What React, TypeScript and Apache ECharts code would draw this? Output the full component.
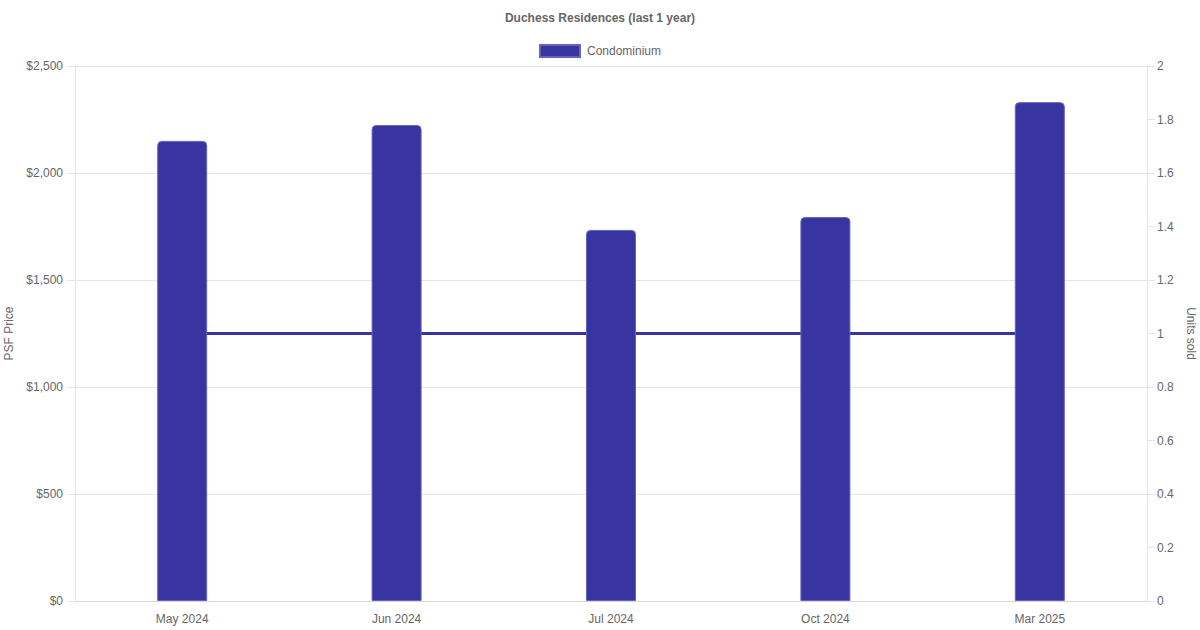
import React, { useEffect, useRef } from "react";
import * as echarts from "echarts";

const categories = ["May 2024", "Jun 2024", "Jul 2024", "Oct 2024", "Mar 2025"];
const psfPrices = [2150, 2224, 1734, 1794, 2331];
const unitsSold = [1, 1, 1, 1, 1];
const seriesName = "Condominium";
const titleText = "Duchess Residences (last 1 year)";

const BAR = "#3835A0";
const TXT = "#666666";
const GRID = "#e5e5e5";
const FONT = "'Liberation Sans', Arial, Helvetica, sans-serif";

export default function App() {
  const ref = useRef<HTMLDivElement>(null);
  useEffect(() => {
    if (!ref.current) return;
    const chart = echarts.init(ref.current, undefined, { renderer: "svg" });
    chart.setOption({
      animation: false,
      textStyle: { fontFamily: FONT },
      title: {
        text: titleText,
        left: "center",
        top: 7,
        textStyle: { fontFamily: FONT, fontSize: 12, fontWeight: "bold", color: TXT },
      },
      legend: {
        data: [{ name: seriesName, icon: "rect" }],
        top: 39,
        left: "center",
        itemWidth: 40,
        itemHeight: 12,
        itemGap: 10,
        textStyle: { fontFamily: FONT, fontSize: 12, color: TXT, padding: [0, 0, 0, 2] },
      },
      grid: { left: 75, right: 53, top: 66, bottom: 29, containLabel: false, outerBoundsMode: "none" },
      xAxis: {
        type: "category",
        data: categories,
        axisTick: { show: false },
        axisLine: { lineStyle: { color: "#d6d6d6" } },
        axisLabel: { color: TXT, fontSize: 12, margin: 12, fontFamily: FONT },
        splitLine: { show: false },
      },
      yAxis: [
        {
          type: "value",
          min: 0,
          max: 2500,
          interval: 500,
          name: "PSF Price",
          nameLocation: "middle",
          nameGap: 58,
          nameTextStyle: { color: TXT, fontSize: 12, fontFamily: FONT },
          axisLine: { show: true, lineStyle: { color: GRID } },
          axisTick: { show: true, length: 8, lineStyle: { color: GRID } },
          axisLabel: {
            color: TXT,
            fontSize: 12,
            margin: 12,
            fontFamily: FONT,
            formatter: (v: number) => "$" + v.toLocaleString("en-US"),
          },
          splitLine: { lineStyle: { color: GRID } },
        },
        {
          type: "value",
          min: 0,
          max: 2,
          interval: 0.2,
          name: "Units sold",
          nameLocation: "middle",
          nameGap: 37,
          nameRotate: -90,
          nameTextStyle: { color: TXT, fontSize: 12, fontFamily: FONT },
          position: "right",
          axisLine: { show: true, lineStyle: { color: GRID } },
          axisTick: { show: true, length: 8, lineStyle: { color: GRID } },
          axisLabel: {
            color: TXT,
            fontSize: 12,
            margin: 10,
            fontFamily: FONT,
            formatter: (v: number) => String(Math.round(v * 10) / 10),
          },
          splitLine: { show: false },
        },
      ],
      series: [
        {
          name: seriesName,
          type: "bar",
          data: psfPrices,
          yAxisIndex: 0,
          barWidth: 50,
          z: 3,
          itemStyle: {
            color: BAR,
            borderColor: "#6563bd",
            borderWidth: 1,
            borderRadius: [4, 4, 0, 0],
          },
        },
        {
          name: "Units",
          type: "line",
          data: unitsSold,
          yAxisIndex: 1,
          showSymbol: false,
          symbol: "none",
          z: 1,
          lineStyle: { color: BAR, width: 3 },
          itemStyle: { color: BAR },
        },
      ],
    });
    return () => chart.dispose();
  }, []);
  return <div ref={ref} style={{ width: 1200, height: 630, position: "absolute", left: 0, top: 0 }} />;
}
